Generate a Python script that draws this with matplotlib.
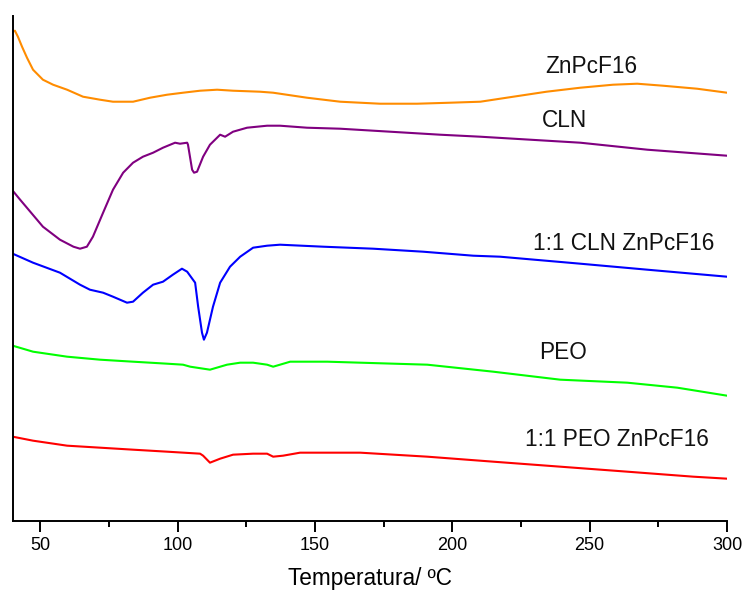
"""
DSC curves - ZnPcF16, CLN, PEO and their 1:1 mixtures.
Values read off the reference picture (heat flow in arbitrary units, offset).
"""
import matplotlib
matplotlib.use("Agg")
import matplotlib.pyplot as plt
from matplotlib.ticker import MultipleLocator

plt.rcParams["font.family"] = ["Liberation Sans", "DejaVu Sans"]

# ── Data ──────────────────────────────────────────────────────────────────────
t_zn = [40.0, 40.8, 41.9, 43.4, 45.2, 47.4, 51.0, 54.7, 59.8, 65.6, 71.8, 76.5,
        83.8, 90.0, 96.2, 102.0, 108.2, 114.4, 120.2, 130.0, 134.8, 147.1,
        159.2, 173.7, 187.2, 199.2, 210.2, 222.2, 234.3, 246.6, 258.5, 267.3,
        276.7, 289.1, 300.0]
y_zn = [4.89, 4.90, 4.84, 4.74, 4.63, 4.51, 4.41, 4.36, 4.31, 4.24, 4.21, 4.19,
        4.19, 4.23, 4.26, 4.28, 4.30, 4.31, 4.30, 4.29, 4.28, 4.23,
        4.19, 4.17, 4.17, 4.18, 4.19, 4.24, 4.29, 4.33, 4.36, 4.37,
        4.35, 4.32, 4.28]

t_cln = [40.0, 42.7, 51.0, 57.2, 62.1, 64.5, 67.0, 69.2, 72.9, 76.5, 80.2, 83.8,
         87.4, 91.1, 94.7, 99.1, 100.9, 103.5, 103.8, 105.3, 106.0, 107.1, 109.3,
         111.8, 115.5, 117.3, 120.2, 125.3, 132.6, 137.3, 147.1, 159.2, 177.4,
         195.6, 210.2, 246.6, 271.0, 300.0]
y_cln = [3.30, 3.21, 2.94, 2.81, 2.74, 2.72, 2.74, 2.84, 3.08, 3.31, 3.48, 3.58,
         3.64, 3.68, 3.73, 3.78, 3.77, 3.78, 3.76, 3.51, 3.48, 3.49, 3.64,
         3.76, 3.86, 3.84, 3.89, 3.93, 3.95, 3.95, 3.93, 3.92, 3.89,
         3.86, 3.84, 3.78, 3.71, 3.65]

t_cln_zn = [40.0, 47.4, 57.2, 64.5, 68.1, 72.9, 76.5, 81.6, 83.8, 87.4, 91.1, 94.7,
            98.3, 101.6, 103.5, 106.4, 107.5, 108.9, 109.6, 110.7, 112.9, 115.5,
            119.1, 122.8, 127.5, 132.6, 137.3, 153.0, 171.2, 189.4, 207.6, 217.4,
            246.6, 271.0, 300.0]
y_cln_zn = [2.67, 2.58, 2.48, 2.36, 2.31, 2.28, 2.24, 2.18, 2.19, 2.28, 2.36, 2.39,
            2.46, 2.52, 2.49, 2.38, 2.14, 1.88, 1.81, 1.88, 2.14, 2.38,
            2.54, 2.64, 2.73, 2.75, 2.76, 2.74, 2.72, 2.69, 2.65, 2.64,
            2.57, 2.51, 2.44]

t_peo = [40.0, 47.4, 59.8, 71.8, 83.8, 96.2, 102.0, 104.6, 111.8, 118.0, 122.8,
         127.5, 132.6, 134.8, 137.3, 141.0, 145.7, 154.5, 166.5, 190.9, 214.9,
         239.3, 263.7, 281.9, 300.0]
y_peo = [1.75, 1.69, 1.64, 1.61, 1.59, 1.57, 1.56, 1.54, 1.51, 1.56, 1.58,
         1.58, 1.56, 1.54, 1.56, 1.59, 1.59, 1.59, 1.58, 1.56, 1.49,
         1.41, 1.38, 1.33, 1.25]

t_peo_zn = [40.0, 47.4, 59.8, 71.8, 83.8, 96.2, 108.2, 109.3, 111.8, 115.5, 120.2,
            127.5, 132.6, 134.8, 138.4, 144.6, 156.6, 166.5, 190.9, 214.9, 239.3,
            263.7, 287.7, 300.0]
y_peo_zn = [0.84, 0.80, 0.75, 0.73, 0.71, 0.69, 0.67, 0.65, 0.58, 0.62, 0.66,
            0.67, 0.67, 0.64, 0.65, 0.68, 0.68, 0.68, 0.64, 0.59, 0.54,
            0.49, 0.44, 0.42]

labels = ["ZnPcF16", "CLN", "1:1 CLN ZnPcF16", "PEO", "1:1 PEO ZnPcF16"]
label_t = [250.5, 240.7, 262.5, 240.3, 260.0]
label_y = [4.54, 4.00, 2.77, 1.68, 0.81]

series = [(t_zn, y_zn, "#FF8C00"),
          (t_cln, y_cln, "#800080"),
          (t_cln_zn, y_cln_zn, "#0000FF"),
          (t_peo, y_peo, "#00FF00"),
          (t_peo_zn, y_peo_zn, "#FF0000")]

# ── Plot ──────────────────────────────────────────────────────────────────────
fig = plt.figure(figsize=(7.43, 5.91), dpi=100)
ax = fig.add_axes([0.0171, 0.119, 0.9614, 0.8544])

for t, y, c in series:
    ax.plot(t, y, color=c, linewidth=1.5, solid_joinstyle="round")

for lab, lt, ly in zip(labels, label_t, label_y):
    ax.text(lt, ly, lab, fontsize=16.3, ha="center", va="center", color="#111111")

ax.set_xlim(40, 300)
ax.set_ylim(0, 5.05)
ax.xaxis.set_major_locator(MultipleLocator(50))
ax.xaxis.set_minor_locator(MultipleLocator(25))
ax.tick_params(axis="x", which="major", direction="out", length=8, width=1.4,
               labelsize=13, pad=4)
ax.tick_params(axis="x", which="minor", direction="out", length=4, width=1.4)
ax.set_yticks([])
for side in ("top", "right"):
    ax.spines[side].set_visible(False)
for side in ("left", "bottom"):
    ax.spines[side].set_linewidth(1.4)

ax.set_xlabel("Temperatura/ ºC", fontsize=16.3, labelpad=9)

fig.savefig("out.png", dpi=100)
plt.close(fig)
